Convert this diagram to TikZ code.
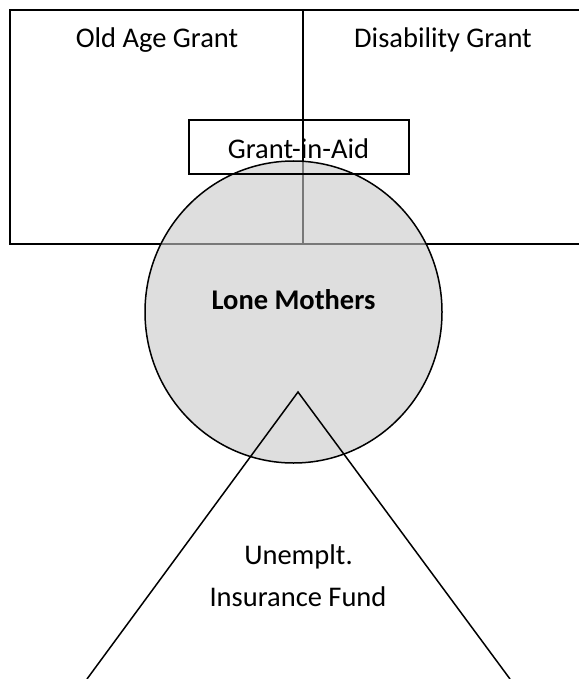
\documentclass[tikz,border=0pt]{standalone}
\usepackage{fontspec}
\setmainfont{Carlito}

\tikzset{
  lbl/.style={anchor=base, inner sep=0pt, font=\fontsize{28.5}{34}\selectfont},
  circfill/.style={fill={rgb,255:red,200;green,200;blue,200}, fill opacity=0.6}
}

\begin{document}
\begin{tikzpicture}[x=1pt, y=-1pt, line width=1.5pt, line cap=butt, line join=miter]

  %% ==== boxes (the right side runs off the page) ====
  \draw (600.0,10.0) -- (10.0,10.0) -- (10.0,244.0) -- (600.0,244.0);
  \draw (303.0,10.0) -- (303.0,244.0);

  %% ==== circle ====
  \filldraw[circfill, draw=black, draw opacity=1] (293.5,312.0) ellipse (148.5 and 151.0);

  %% ==== small box ====
  \draw (189.0,120.0) rectangle (409.0,174.0);

  %% ==== triangle (its base lies below the page) ====
  \coordinate (apex) at (298.0,392.0);
  \coordinate (legL) at (87.0,679.0);
  \coordinate (legR) at (510.0,679.0);
  \draw (legL) -- (apex) -- (legR);

  %% ==== labels ====
  \node[lbl] (oldage)  at (157.0,48.0)  {Old Age Grant};
  \node[lbl] (disab)   at (443.0,48.0)  {Disability Grant};
  \node[lbl] (gia)     at (298.5,159.0) {Grant-in-Aid};
  \node[lbl, font=\fontsize{28.5}{34}\selectfont\bfseries] (lone) at (293.5,309.0) {Lone Mothers};
  \node[lbl] (unempl)  at (298.5,564.0) {Unemplt.};
  \node[lbl] (insfund) at (298.0,606.0) {Insurance Fund};

  % fix the canvas to the reference size
  \pgfresetboundingbox
  \path[use as bounding box] (0,0) rectangle (578,679);
\end{tikzpicture}
\end{document}
